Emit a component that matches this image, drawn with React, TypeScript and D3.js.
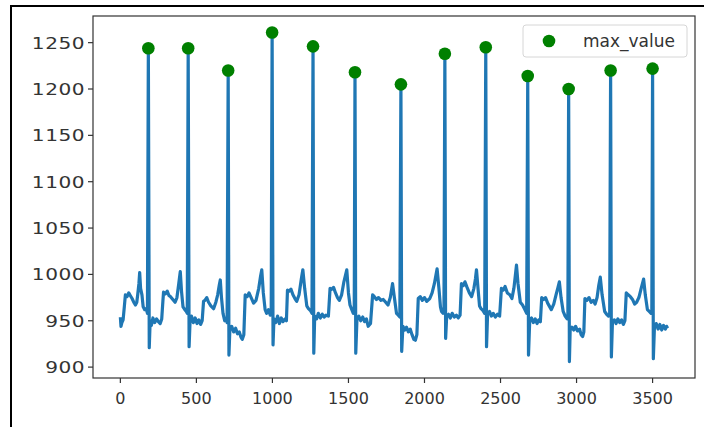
import React, { useRef, useEffect } from "react";
import * as d3 from "d3";

// R-peak positions found by the detector (green dots)
const peakX = [184, 446, 709, 998, 1267, 1543, 1845, 2134, 2403, 2679, 2948, 3224, 3500];
const peakY = [1244, 1244, 1220, 1261, 1246, 1218, 1205, 1238, 1245, 1214, 1200, 1220, 1222];

// ecg trace
const signal: [number, number][] = [
  [0,954],[4,944],[10,948],[18,951],[26,965],[33,978],[44,976],[55,980],[66,977],[77,974],[88,970],[99,967],[108,970],[114,978],[122,990],[127,1002],[133,985],[142,978],[150,965],[160,962],[170,963],[178,958],
  [184,1244],[190,921],[196,950],[204,945],[214,953],[226,948],[238,952],[250,949],[262,947],[272,952],
  [280,972],[284,981],[296,979],[308,982],[320,977],[330,976],[345,973],[360,970],[372,975],[384,990],[394,1003],[402,982],[412,965],[424,962],[434,960],[440,958],
  [446,1244],[452,922],[458,948],[468,955],[480,948],[492,953],[504,947],[516,951],[528,946],[538,950],
  [547,971],[556,972],[568,975],[580,970],[595,966],[613,963],[628,970],[640,978],[650,988],[657,994],[665,975],[675,958],[686,950],[696,952],[702,948],
  [709,1220],[714,913],[720,940],[732,944],[745,938],[758,942],[770,936],[782,938],[794,932],[802,930],[812,935],
  [821,978],[834,976],[846,980],[860,975],[876,969],[892,972],[910,985],[922,998],[930,1005],[940,980],[952,962],[962,958],[974,962],[986,956],[992,960],
  [998,1261],[1004,924],[1010,952],[1022,948],[1034,955],[1046,947],[1058,953],[1070,949],[1083,952],[1092,950],
  [1099,983],[1110,982],[1122,984],[1135,978],[1148,974],[1160,971],[1175,978],[1190,995],[1200,1005],[1212,985],[1226,966],[1237,963],[1250,961],[1260,958],
  [1267,1246],[1272,915],[1278,955],[1290,952],[1302,958],[1315,953],[1328,957],[1340,954],[1352,956],[1368,955],
  [1379,985],[1390,984],[1402,986],[1415,980],[1428,975],[1440,972],[1455,978],[1470,992],[1489,1005],[1500,980],[1510,967],[1522,962],[1532,958],[1538,960],
  [1543,1218],[1548,915],[1556,952],[1568,955],[1580,950],[1594,954],[1606,949],[1618,952],[1630,944],[1645,947],
  [1659,978],[1670,976],[1684,973],[1698,975],[1714,972],[1729,973],[1745,970],[1760,967],[1775,975],[1790,990],[1802,975],[1816,958],[1828,956],[1838,954],
  [1845,1205],[1850,917],[1858,944],[1870,940],[1882,943],[1894,938],[1906,941],[1918,935],[1930,930],[1940,929],[1950,935],
  [1959,974],[1972,976],[1986,972],[2000,975],[2015,971],[2035,974],[2050,980],[2065,990],[2083,1006],[2095,985],[2105,965],[2112,960],[2122,958],[2128,960],
  [2134,1238],[2139,931],[2146,955],[2158,957],[2170,953],[2182,958],[2196,954],[2210,956],[2222,953],[2234,956],
  [2243,990],[2255,988],[2266,992],[2280,986],[2295,980],[2310,976],[2325,985],[2335,995],[2342,1005],[2352,985],[2362,966],[2372,963],[2385,961],[2396,958],
  [2403,1245],[2408,922],[2415,957],[2428,960],[2440,955],[2452,958],[2466,954],[2480,957],[2494,955],
  [2506,985],[2518,983],[2530,987],[2545,980],[2561,978],[2575,974],[2588,985],[2597,998],[2605,1010],[2615,990],[2630,970],[2645,967],[2660,962],[2672,958],
  [2679,1214],[2684,913],[2692,950],[2704,953],[2716,948],[2728,952],[2740,947],[2752,951],[2762,949],
  [2771,975],[2784,973],[2796,975],[2810,969],[2834,962],[2850,968],[2865,978],[2878,986],[2887,992],[2898,975],[2912,960],[2925,955],[2938,952],[2943,955],
  [2948,1200],[2953,906],[2958,940],[2970,943],[2982,940],[2994,944],[3006,939],[3020,941],[3030,935],[3040,933],[3048,938],
  [3055,974],[3068,972],[3082,975],[3096,970],[3110,972],[3122,968],[3135,975],[3146,988],[3156,997],[3168,978],[3185,960],[3198,957],[3210,955],[3218,958],
  [3224,1220],[3229,911],[3236,948],[3248,951],[3260,947],[3272,952],[3284,948],[3296,951],[3308,946],[3318,950],
  [3327,980],[3340,978],[3354,976],[3368,973],[3382,968],[3395,970],[3410,975],[3425,985],[3441,995],[3452,978],[3466,962],[3478,960],[3490,958],[3495,960],
  [3500,1222],[3505,909],[3512,942],[3524,947],[3536,941],[3548,946],[3560,940],[3572,945],[3584,941],[3592,944],[3599,942],
];

const xTicks = [0, 500, 1000, 1500, 2000, 2500, 3000, 3500];
const yTicks = [900, 950, 1000, 1050, 1100, 1150, 1200, 1250];
const legendLabel = "max_value";

const App = () => {
  const canvas = useRef<SVGSVGElement>(null);

  const W = 704;
  const H = 427;
  const plot = { left: 93, top: 16, right: 695, bottom: 378 };

  useEffect(() => {
    const svg = d3.select(canvas.current);
    svg.selectAll("*").remove();

    // matplotlib style 5% margins
    const xe = d3.extent(signal, d => d[0]) as [number, number];
    const ye = d3.extent(signal, d => d[1]) as [number, number];
    const xp = (xe[1] - xe[0]) * 0.05;
    const yp = (ye[1] - ye[0]) * 0.05;

    const x = d3.scaleLinear().domain([xe[0] - xp, xe[1] + xp]).range([plot.left, plot.right]);
    const y = d3.scaleLinear().domain([ye[0] - yp, ye[1] + yp]).range([plot.bottom, plot.top]);

    svg.append("rect").attr("width", W).attr("height", H).attr("fill", "white");

    // screenshot frame
    svg.append("line").attr("x1", 10).attr("x2", W).attr("y1", 6).attr("y2", 6)
      .attr("stroke", "black").attr("stroke-width", 2);
    svg.append("line").attr("x1", 11).attr("x2", 11).attr("y1", 5).attr("y2", H)
      .attr("stroke", "black").attr("stroke-width", 2);

    const line = d3.line<[number, number]>().x(d => x(d[0])).y(d => y(d[1]));

    svg.append("path")
      .datum(signal)
      .attr("d", line)
      .attr("fill", "none")
      .attr("stroke", "#1f77b4")
      .attr("stroke-width", 3.2)
      .attr("stroke-linejoin", "round");

    svg.selectAll("circle.peak")
      .data(peakX)
      .enter()
      .append("circle")
      .attr("class", "peak")
      .attr("cx", d => x(d))
      .attr("cy", (d, i) => y(peakY[i]))
      .attr("r", 6.3)
      .attr("fill", "green");

    // spines
    svg.append("rect")
      .attr("x", plot.left).attr("y", plot.top)
      .attr("width", plot.right - plot.left).attr("height", plot.bottom - plot.top)
      .attr("fill", "none").attr("stroke", "#333").attr("stroke-width", 1.2);

    const font = "DejaVu Sans, sans-serif";

    const gx = svg.append("g");
    xTicks.forEach(t => {
      gx.append("line").attr("x1", x(t)).attr("x2", x(t))
        .attr("y1", plot.bottom).attr("y2", plot.bottom + 5)
        .attr("stroke", "#333").attr("stroke-width", 1.2);
      gx.append("text").attr("x", x(t)).attr("y", plot.bottom + 26)
        .attr("text-anchor", "middle").attr("font-family", font).attr("font-size", 16)
        .attr("fill", "#333").text(t);
    });

    // y labels look wider in the original, stretch them a bit
    const gy = svg.append("g");
    yTicks.forEach(t => {
      gy.append("line").attr("x1", plot.left - 5).attr("x2", plot.left)
        .attr("y1", y(t)).attr("y2", y(t))
        .attr("stroke", "#333").attr("stroke-width", 1.2);
      gy.append("text")
        .attr("transform", `translate(${plot.left - 8},${y(t)}) scale(1.22,1)`)
        .attr("dy", "0.36em")
        .attr("text-anchor", "end").attr("font-family", font).attr("font-size", 16.5)
        .attr("letter-spacing", 0.4)
        .attr("fill", "#333").text(t);
    });

    // legend
    const lg = svg.append("g");
    lg.append("rect").attr("x", 523).attr("y", 25).attr("width", 164).attr("height", 32)
      .attr("rx", 3).attr("fill", "white").attr("fill-opacity", 0.8)
      .attr("stroke", "#d6d6d6").attr("stroke-width", 1);
    lg.append("circle").attr("cx", 549).attr("cy", 41).attr("r", 6.3).attr("fill", "green");
    lg.append("text").attr("x", 583).attr("y", 41).attr("dy", "0.36em")
      .attr("font-family", font).attr("font-size", 17).attr("fill", "#333").text(legendLabel);
  });

  return (
    <svg ref={canvas} width={W} height={H} style={{ position: "absolute", left: 0, top: 0 }}></svg>
  );
};

export default App;
